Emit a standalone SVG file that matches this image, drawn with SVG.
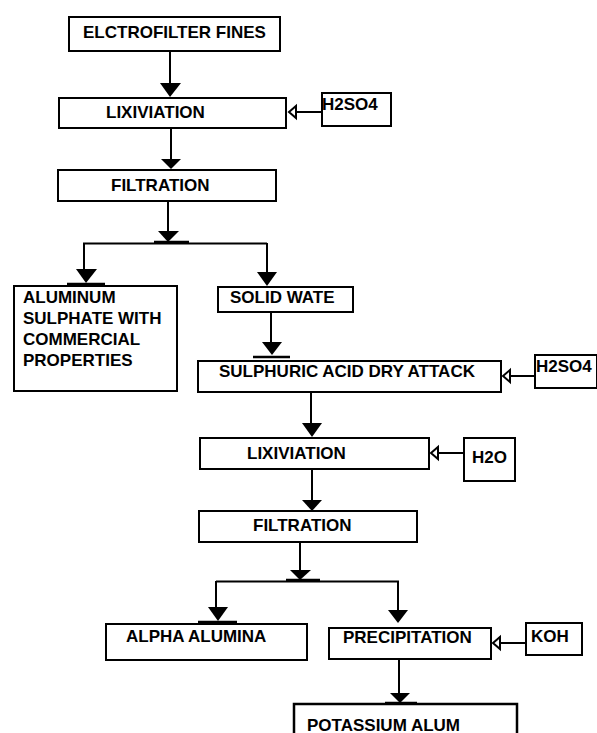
<svg xmlns="http://www.w3.org/2000/svg" width="597" height="733" viewBox="0 0 597 733">
<style>
.box{fill:#fff;stroke:#000;stroke-width:2}
.t{font-family:"Liberation Sans",Arial,sans-serif;font-weight:bold;font-size:17px;fill:#000}
.ln{stroke:#000;stroke-width:2;fill:none}
.bar{stroke:#000;stroke-width:2.5;fill:none}
.ah{fill:#000}
.oh{fill:#fff;stroke:#000;stroke-width:2}
</style>
<rect width="597" height="733" fill="#fff"/>
<g id="connectors">
<line class="ln" x1="170" y1="51" x2="170" y2="84"/>
<polygon class="ah" points="160,83 181,83 170,97"/>
<line class="ln" x1="171" y1="128" x2="171" y2="160"/>
<polygon class="ah" points="161,159 181,159 171,169"/>
<line class="ln" x1="322" y1="112" x2="296" y2="112"/>
<polygon class="oh" points="289,112 296,106 296,118"/>
<line class="ln" x1="168" y1="201" x2="168" y2="232"/>
<polygon class="ah" points="158,231 179,231 168,242"/>
<line class="bar" x1="154" y1="242" x2="189" y2="242"/>
<line class="ln" x1="83" y1="243.5" x2="267" y2="243.5"/>
<line class="ln" x1="84" y1="243" x2="84" y2="270"/>
<polygon class="ah" points="76,269 97,269 86,283"/>
<line class="bar" x1="67" y1="284" x2="105" y2="284"/>
<line class="ln" x1="267" y1="243" x2="267" y2="273"/>
<polygon class="ah" points="257,272 277,272 267,286"/>
<line class="ln" x1="271" y1="312" x2="271" y2="343"/>
<polygon class="ah" points="262,342 282,342 272,355"/>
<line class="bar" x1="253" y1="357" x2="290" y2="357"/>
<line class="ln" x1="535" y1="376" x2="510" y2="376"/>
<polygon class="oh" points="503,376 510,370 510,382"/>
<line class="ln" x1="311" y1="392" x2="311" y2="424"/>
<polygon class="ah" points="302,423 322,423 312,437"/>
<line class="ln" x1="464" y1="453" x2="438" y2="453"/>
<polygon class="oh" points="431,453 438,447 438,459"/>
<line class="ln" x1="312" y1="469" x2="312" y2="501"/>
<polygon class="ah" points="302,500 322,500 312,511"/>
<line class="ln" x1="300" y1="542" x2="300" y2="571"/>
<polygon class="ah" points="290,570 311,570 300,580"/>
<line class="bar" x1="286" y1="580" x2="320" y2="580"/>
<line class="ln" x1="216" y1="581.5" x2="399" y2="581.5"/>
<line class="ln" x1="216" y1="581" x2="216" y2="608"/>
<polygon class="ah" points="208,607 228,607 218,621"/>
<line class="bar" x1="198" y1="622" x2="237" y2="622"/>
<line class="ln" x1="398" y1="581" x2="398" y2="611"/>
<polygon class="ah" points="388,610 408,610 398,623"/>
<line class="ln" x1="526" y1="643" x2="500" y2="643"/>
<polygon class="oh" points="493,643 500,637 500,649"/>
<line class="ln" x1="399" y1="659" x2="399" y2="694"/>
<polygon class="ah" points="390,693 410,693 400,703"/>
<line class="bar" x1="385" y1="703" x2="417" y2="703"/>
</g>
<g id="n1"><rect class="box" x="69" y="17" width="211" height="34"/><text class="t" x="83" y="37.5">ELCTROFILTER FINES</text></g>
<g id="n2"><rect class="box" x="59" y="98" width="227" height="30"/><text class="t" x="106" y="118">LIXIVIATION</text></g>
<g id="n3"><rect class="box" x="322" y="93" width="69" height="33"/><text class="t" x="322" y="110">H2SO4</text></g>
<g id="n4"><rect class="box" x="58" y="170" width="218" height="31"/><text class="t" x="111" y="191">FILTRATION</text></g>
<g id="n5"><rect class="box" x="14" y="286" width="163" height="105"/>
<text class="t" x="23" y="303">ALUMINUM</text><text class="t" x="23" y="324">SULPHATE WITH</text><text class="t" x="23" y="345">COMMERCIAL</text><text class="t" x="23" y="366">PROPERTIES</text></g>
<g id="n6"><rect class="box" x="218" y="287" width="135" height="25"/><text class="t" x="230" y="303">SOLID WATE</text></g>
<g id="n7"><rect class="box" x="198" y="361" width="303" height="31"/><text class="t" x="219" y="377">SULPHURIC ACID DRY ATTACK</text></g>
<g id="n8"><rect class="box" x="535" y="355" width="62" height="33"/><text class="t" x="536" y="372">H2SO4</text></g>
<g id="n9"><rect class="box" x="200" y="438" width="229" height="31"/><text class="t" x="247" y="459">LIXIVIATION</text></g>
<g id="n10"><rect class="box" x="464" y="438" width="51" height="43"/><text class="t" x="472" y="463">H2O</text></g>
<g id="n11"><rect class="box" x="199" y="511" width="218" height="31"/><text class="t" x="253" y="531">FILTRATION</text></g>
<g id="n12"><rect class="box" x="106" y="624" width="201" height="36"/><text class="t" x="126" y="642">ALPHA ALUMINA</text></g>
<g id="n13"><rect class="box" x="329" y="628" width="162" height="31"/><text class="t" x="343" y="643">PRECIPITATION</text></g>
<g id="n14"><rect class="box" x="526" y="623" width="56" height="32"/><text class="t" x="531" y="642">KOH</text></g>
<g id="n15"><rect class="box" x="294" y="704" width="223" height="40" style="stroke-width:2.5"/><text class="t" x="307" y="731">POTASSIUM ALUM</text></g>
</svg>
